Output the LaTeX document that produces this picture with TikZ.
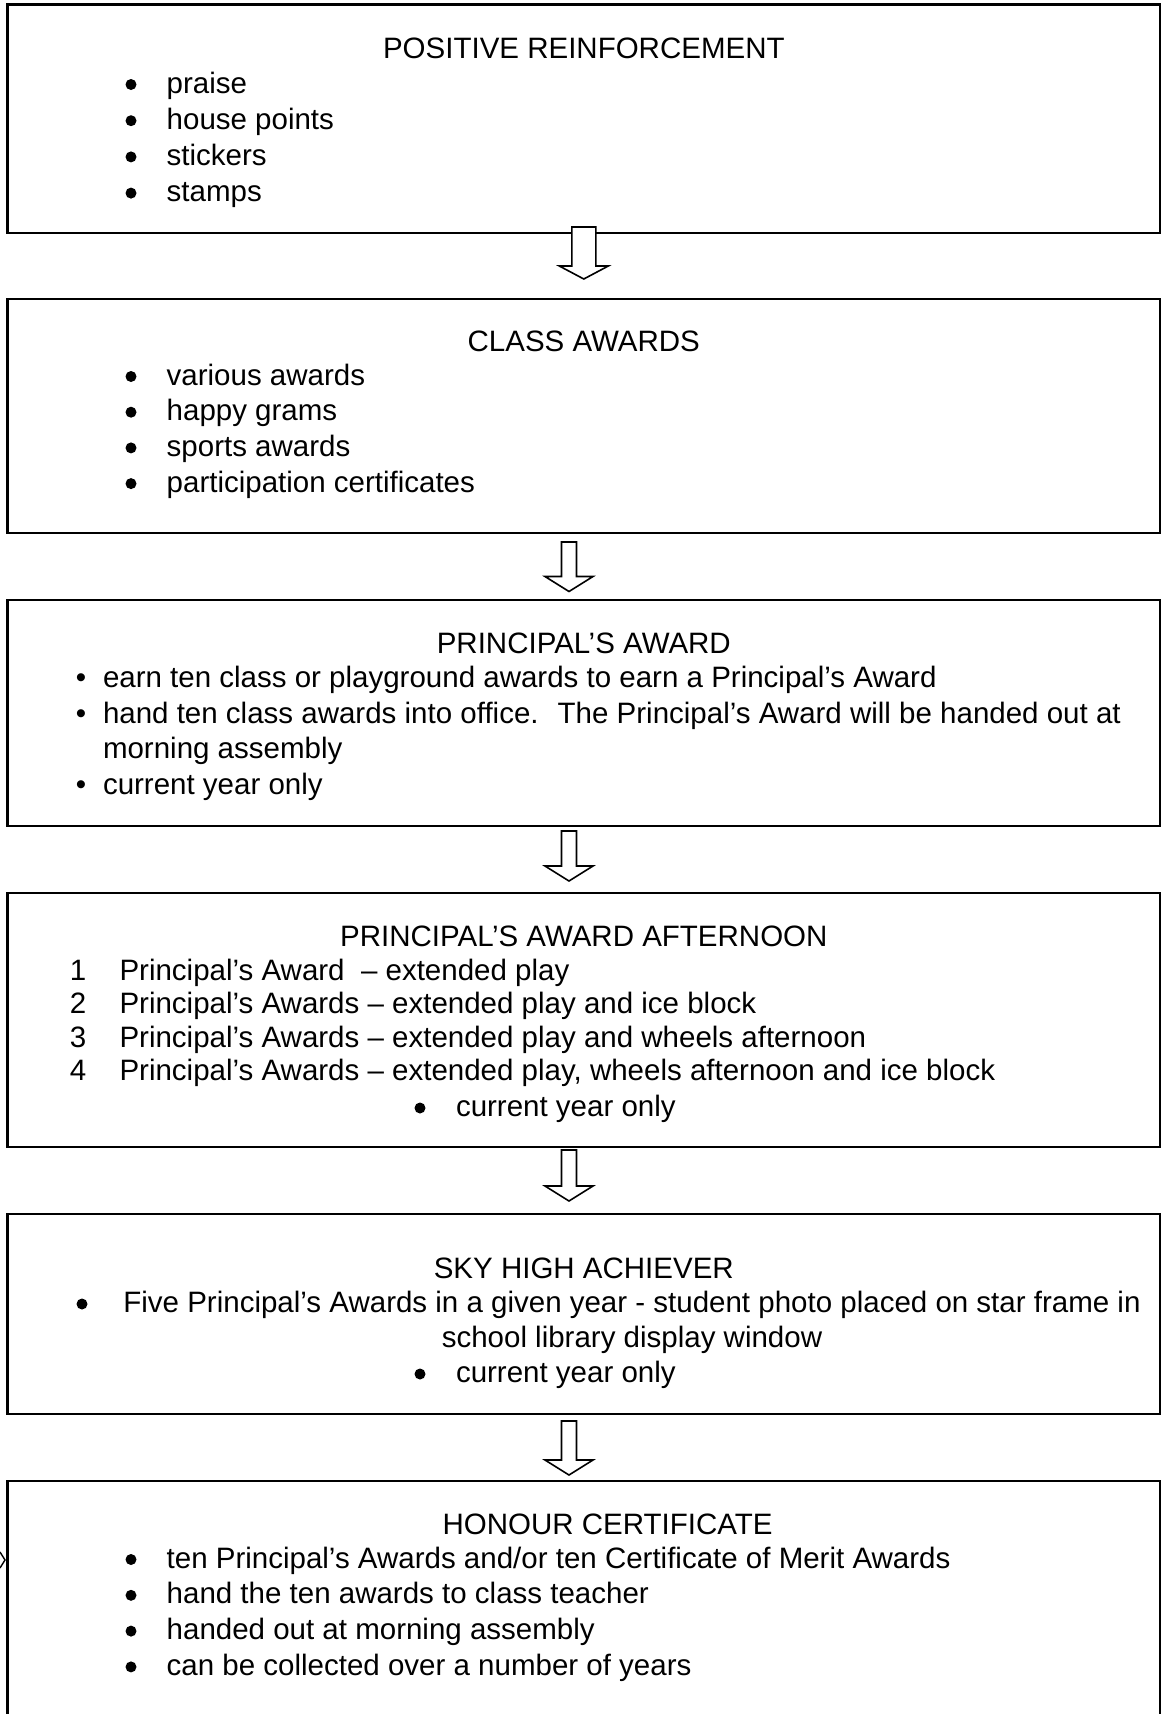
\documentclass[tikz,border=0pt]{standalone}
\usepackage{fontspec}
\setmainfont{Liberation Sans}
% block arrow: x centre, top, tip, stem half-width, head half-width, head height
\newcommand\blockarr[6]{%
  \draw[blk] (#1-#4,#2) -- (#1+#4,#2) -- (#1+#4,#3-#6) -- (#1+#5,#3-#6) -- (#1,#3) -- (#1-#5,#3-#6) -- (#1-#4,#3-#6) -- cycle;}
\begin{document}
\begin{tikzpicture}[x=1pt,y=-1pt,
  every node/.style={inner sep=0pt, outer sep=0pt},
  box/.style={draw, line width=2.4pt, rectangle, anchor=north west, minimum width=1152.4pt},
  body/.style={font=\fontsize{29.5}{36}\selectfont, anchor=base west},
  title/.style={font=\fontsize{29.5}{36}\selectfont, anchor=base},
  bigbul/.style={fill=black},
  blk/.style={draw, line width=1.6pt, fill=white, line join=miter}]

\useasboundingbox (0,0) rectangle (1168,1714);
\fill[white] (0,0) rectangle (1168,1714);

% boxes
\node[box, minimum height=228.3pt] (b1) at (7.6,4.4) {};
\node[box, minimum height=234pt] (b2) at (7.6,299) {};
\node[box, minimum height=226pt] (b3) at (7.6,600) {};
\node[box, minimum height=254pt] (b4) at (7.6,893) {};
\node[box, minimum height=200pt] (b5) at (7.6,1214) {};
\node[anchor=north west, minimum width=1152.4pt, minimum height=245pt] (b6) at (7.6,1481) {};
\draw[line width=2.4pt] (b6.south west) -- (b6.north west) -- (b6.north east) -- (b6.south east);

% block arrows
\blockarr{583.8}{227}{279}{12}{24.5}{13}
\blockarr{569}{542}{591.5}{7.5}{24}{15}
\blockarr{569}{831}{881}{7.5}{24}{15}
\blockarr{569}{1150}{1201}{7.5}{24}{15}
\blockarr{569}{1421}{1475}{7.5}{24}{15}

% small chevron at left edge
\draw[line width=1.4pt] (0,1552) -- (5,1560) -- (0,1568);

% box 1
\node[title] (h1) at (583.8,58) {POSITIVE REINFORCEMENT};
\foreach \t [count=\i] in {praise, house points, stickers, stamps} {
  \pgfmathsetmacro\yy{93+36.2*(\i-1)}
  \fill[bigbul] (131,\yy-8.5) circle (5.5);
  \node[body] (ta\i) at (166.7,\yy) {\t};
}

% box 2
\node[title] (h2) at (583.8,351) {CLASS AWARDS};
\foreach \t [count=\i] in {various awards, happy grams, sports awards, participation certificates} {
  \pgfmathsetmacro\yy{385+35.7*(\i-1)}
  \fill[bigbul] (131,\yy-8.5) circle (5.5);
  \node[body] (tb\i) at (166.7,\yy) {\t};
}

% box 3
\node[title] (h3) at (583.8,653) {PRINCIPAL’S AWARD};
\node[title] (bc1) at (81,687.5) {•};
\node[body] (tc1) at (103,687.5) {earn ten class or playground awards to earn a Principal’s Award};
\node[title] (bc2) at (81,723) {•};
\node[body] (tc2) at (103,723) {hand ten class awards into office.~ The Principal’s Award will be handed out at};
\node[body] (tc3) at (103,758.5) {morning assembly};
\node[title] (bc4) at (81,794) {•};
\node[body] (tc4) at (103,794) {current year only};

% box 4
\node[title] (h4) at (583.8,946) {PRINCIPAL’S AWARD AFTERNOON};
\foreach \t [count=\i] in {{Principal’s Award~ – extended play},
  {Principal’s Awards – extended play and ice block},
  {Principal’s Awards – extended play and wheels afternoon},
  {Principal’s Awards – extended play, wheels afternoon and ice block}} {
  \pgfmathsetmacro\yy{980+33.6*(\i-1)}
  \node[title] (nd\i) at (78,\yy) {\i};
  \node[body] (td\i) at (119.5,\yy) {\t};
}
\fill[bigbul] (420,1116-8) circle (5.5);
\node[body] (td5) at (456,1116) {current year only};

% box 5
\node[title] (h5) at (583.8,1278) {SKY HIGH ACHIEVER};
\fill[bigbul] (82,1312-8) circle (5.5);
\node[title] (te1) at (632,1312) {Five Principal’s Awards in a given year - student photo placed on star frame in};
\node[title] (te2) at (632,1347) {school library display window};
\fill[bigbul] (420,1382-8) circle (5.5);
\node[body] (te3) at (456,1382) {current year only};

% box 6
\node[title] (h6) at (607.5,1534) {HONOUR CERTIFICATE};
\foreach \t [count=\i] in {{ten Principal’s Awards and/or ten Certificate of Merit Awards},
  {hand the ten awards to class teacher},
  {handed out at morning assembly},
  {can be collected over a number of years}} {
  \pgfmathsetmacro\yy{1568+35.8*(\i-1)}
  \fill[bigbul] (131,\yy-8.5) circle (5.5);
  \node[body] (tf\i) at (166.7,\yy) {\t};
}
\end{tikzpicture}
\end{document}
